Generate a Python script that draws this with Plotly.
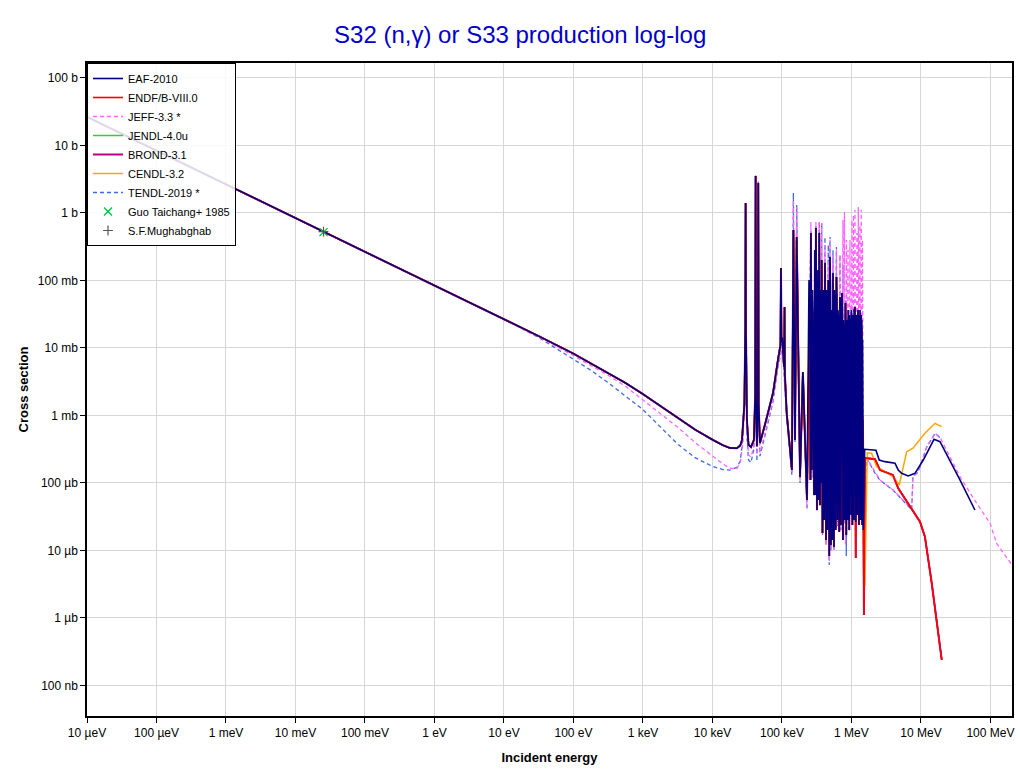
import numpy as np
import plotly.graph_objects as go

# ---------------- axis ticks ----------------
x_tick_vals = [1e-5, 1e-4, 1e-3, 1e-2, 1e-1, 1, 10, 100, 1e3, 1e4, 1e5, 1e6, 1e7, 1e8]
x_tick_text = ["10 µeV", "100 µeV", "1 meV", "10 meV", "100 meV", "1 eV", "10 eV", "100 eV",
               "1 keV", "10 keV", "100 keV", "1 MeV", "10 MeV", "100 MeV"]
y_tick_vals = [1e-7, 1e-6, 1e-5, 1e-4, 1e-3, 1e-2, 1e-1, 1, 10, 100]
y_tick_text = ["100 nb", "1 µb", "10 µb", "100 µb", "1 mb", "10 mb", "100 mb", "1 b", "10 b", "100 b"]

# ---------------- data (energy in eV, cross section in barn) ----------------
# common smooth part of the evaluated solid-line libraries
solid_low_E = [1e-5, 0.0253, 10, 31.6, 100, 316, 562, 1000, 1778, 3162, 5623, 1.0e4, 1.413e4,
               1.778e4, 2.239e4, 2.512e4, 2.66e4, 2.88e4, 2.97e4, 3.0e4, 3.03e4, 3.13e4, 3.3e4,
               3.58e4, 3.95e4, 4.12e4, 4.18e4, 4.24e4, 4.36e4, 4.5e4, 4.56e4, 4.62e4, 4.82e4,
               5.69e4, 7.43e4, 8.75e4, 9.51e4]
solid_low_xs = [26.5, 0.53, 0.0267, 0.0150, 8.24e-3, 4.27e-3, 3.03e-3, 2.07e-3, 1.38e-3, 9.14e-4,
                6.17e-4, 4.38e-4, 3.63e-4, 3.31e-4, 3.27e-4, 3.6e-4, 4.34e-4, 1.5e-3, 0.02, 1.41,
                0.02, 8.6e-4, 3.7e-4, 3.41e-4, 4.34e-4, 2.0e-3, 3.53, 2.0e-3, 3.5e-4, 1.5e-3, 2.78,
                1.5e-3, 3.92e-4, 7.3e-4, 2.15e-3, 6.64e-3, 0.0111]

# resolved resonance forest (solid libraries)
solid_forest_E = [9.68e4, 9.84e4, 1.01e5, 1.07e5, 1.09e5, 1.10e5, 1.17e5, 1.30e5, 1.39e5, 1.46e5,
                  1.54e5, 1.63e5, 1.82e5, 2.00e5, 2.29e5, 2.53e5, 2.57e5, 2.61e5, 2.70e5, 2.79e5,
                  2.89e5, 2.98e5, 3.03e5, 3.08e5, 3.19e5, 3.30e5, 3.35e5, 3.44e5, 3.52e5, 3.64e5,
                  3.68e5, 3.73e5, 3.83e5, 3.95e5, 4.05e5, 4.16e5, 4.30e5, 4.44e5, 4.51e5, 4.64e5,
                  4.79e5, 4.91e5, 5.07e5, 5.19e5, 5.29e5, 5.42e5, 5.60e5, 5.79e5, 5.93e5, 6.08e5,
                  6.29e5, 6.50e5, 6.67e5, 6.84e5, 7.06e5, 7.30e5, 7.55e5, 7.80e5, 7.98e5, 8.20e5,
                  8.42e5, 8.61e5, 8.85e5, 9.06e5, 9.29e5, 9.51e5, 9.84e5, 1.006e6, 1.030e6,
                  1.057e6, 1.086e6, 1.122e6]
solid_forest_xs = [0.153, 0.0123, 0.0141, 0.00523, 0.0405, 0.0042, 1.09e-3, 3.41e-4, 1.56e-4, 0.56,
                   4.34e-4, 0.441, 1.23e-4, 0.00441, 5.6e-5, 0.0514, 1.11e-4, 0.506, 1.56e-4, 0.0341,
                   6.64e-5, 0.283, 6.64e-5, 0.600, 3.98e-5, 0.143, 5.6e-5, 0.506, 4.72e-5, 0.0514,
                   1.0e-4, 0.201, 1.82e-5, 0.0723, 2.83e-5, 0.182, 1.43e-5, 0.0514, 2.01e-5, 0.102,
                   8.3e-6, 0.223, 1.21e-5, 0.0366, 1.43e-5, 0.129, 1.13e-5, 0.0514, 2.01e-5, 0.113,
                   2.83e-5, 0.026, 1.88e-5, 0.057, 2.39e-5, 0.0653, 1.43e-5, 0.0185, 2.83e-5, 0.0464,
                   1.70e-5, 0.0111, 2.83e-5, 0.0185, 2.01e-5, 0.0131, 3.36e-5, 0.0111, 2.39e-5,
                   0.0185, 2.83e-5, 0.0405]
# additional narrow peaks inside the forest (EAF-2010)
eaf_extra_E = [2.45e5, 2.75e5, 2.94e5, 3.13e5, 3.24e5, 3.58e5, 3.89e5, 4.10e5, 4.37e5,
               4.71e5, 4.99e5, 5.35e5, 5.69e5, 5.98e5, 6.18e5, 6.39e5, 6.77e5, 6.95e5,
               7.18e5, 7.43e5, 7.67e5, 8.05e5, 8.12e5, 8.33e5, 8.52e5, 8.75e5, 8.97e5, 9.21e5,
               9.35e5, 9.42e5, 9.68e5, 9.95e5, 1.016e6, 1.04e6, 1.072e6, 1.09e6, 1.104e6, 1.115e6,
               1.17e6, 1.23e6, 1.29e6, 1.33e6, 1.38e6, 1.405e6, 1.445e6]
eaf_extra_xs = [0.102, 0.0723, 0.026, 0.0514, 0.0185, 0.0723, 0.0366, 0.0514, 0.0723,
                0.0514, 0.0723, 0.0514, 0.0723, 0.0366, 0.0514, 0.0366, 0.026, 0.0366,
                0.0309, 0.026, 0.026, 0.026, 0.0309, 0.0185, 0.026, 0.026, 0.0366, 0.0185,
                0.0309, 0.026, 0.0185, 0.0366, 0.026, 0.0309, 0.026, 0.0366, 0.0366, 0.026,
                0.0309, 0.0366, 0.0309, 0.0366, 0.0309, 0.026, 0.0131]

eaf_tail_E = [1.153e6, 1.161e6, 1.180e6, 1.208e6, 1.22e6, 1.241e6, 1.255e6, 1.282e6, 1.30e6,
              1.316e6, 1.34e6, 1.355e6, 1.37e6, 1.393e6, 1.416e6, 1.430e6, 1.463e6, 1.479e6,
              1.549e6, 2.25e6, 2.51e6, 3.03e6, 4.23e6, 4.71e6, 5.27e6, 6.56e6, 8.20e6, 1.08e7,
              1.54e7, 1.88e7, 2.61e7, 3.64e7, 5.98e7]
eaf_tail_xs = [2.64e-5, 0.026, 0.0131, 3.36e-5, 0.026, 0.0366, 0.0185, 2.39e-5, 0.026, 0.00664,
               0.0185, 2.83e-5, 0.026, 0.0185, 0.0185, 2.39e-5, 8.58e-4, 2.01e-5, 3.16e-4,
               3.05e-4, 2.19e-4, 2.07e-4, 1.96e-4, 1.56e-4, 1.39e-4, 1.27e-4, 1.39e-4, 2.19e-4,
               4.44e-4, 4.09e-4, 2.19e-4, 1.11e-4, 3.98e-5]

endf_tail_E = [1.153e6, 1.180e6, 1.208e6, 1.241e6, 1.282e6, 1.316e6, 1.355e6, 1.393e6, 1.430e6,
               1.463e6, 1.513e6, 1.563e6, 2.18e6, 2.57e6, 3.95e6, 4.71e6, 6.95e6, 9.68e6, 1.14e7,
               1.43e7, 1.99e7]
endf_tail_xs = [7.74e-6, 0.0131, 3.36e-5, 0.0366, 2.39e-5, 0.00664, 2.83e-5, 0.0185, 2.39e-5,
                8.58e-4, 1.11e-6, 2.35e-4, 2.25e-4, 1.56e-4, 1.31e-4, 8.34e-5, 4.46e-5, 2.67e-5,
                1.60e-5, 3.27e-6, 2.39e-7]

cendl_tail_E = [1.153e6, 1.180e6, 1.208e6, 1.241e6, 1.282e6, 1.316e6, 1.355e6, 1.393e6, 1.430e6,
                1.463e6, 1.479e6, 1.56e6, 1.69e6, 1.95e6, 2.31e6, 3.98e6, 4.87e6, 6.23e6, 7.67e6,
                1.14e7, 1.59e7, 1.99e7]
cendl_tail_xs = [2.64e-5, 0.0131, 3.36e-5, 0.0366, 2.39e-5, 0.00664, 2.83e-5, 0.0185, 2.39e-5,
                 8.58e-4, 2.01e-5, 3.0e-6, 2.81e-4, 2.77e-4, 1.74e-4, 1.24e-4, 9.34e-5, 2.91e-4,
                 3.27e-4, 5.45e-4, 7.66e-4, 6.83e-4]

# JEFF-3.3
jeff_low_E = [1e-5, 0.0253, 10, 31.6, 100, 316, 562, 1000, 1778, 3162, 5623, 1.0e4, 1.413e4,
              1.778e4, 2.239e4, 2.512e4, 2.75e4, 2.88e4, 2.97e4, 3.0e4, 3.03e4, 3.13e4, 3.3e4,
              3.58e4, 3.95e4, 4.12e4, 4.18e4, 4.24e4, 4.36e4, 4.5e4, 4.56e4, 4.62e4, 4.82e4,
              5.69e4, 7.43e4, 8.75e4, 1.01e5]
jeff_low_xs = [26.5, 0.53, 0.0267, 0.01467, 7.69e-3, 3.94e-3, 2.70e-3, 1.68e-3, 1.07e-3, 6.69e-4,
               3.98e-4, 2.49e-4, 1.91e-4, 1.66e-4, 1.62e-4, 2.02e-4, 4.0e-4, 1.5e-3, 0.02, 1.41,
               0.02, 6.0e-4, 2.6e-4, 2.43e-4, 3.5e-4, 2.0e-3, 3.6, 2.0e-3, 2.6e-4, 1.5e-3, 2.9,
               1.5e-3, 2.8e-4, 5.5e-4, 1.7e-3, 5.5e-3, 0.0111]
jeff_forest_E = [1.07e5, 1.17e5, 1.30e5, 1.39e5, 1.46e5, 1.54e5, 1.63e5, 1.82e5, 2.00e5, 2.29e5,
                 2.61e5, 2.70e5, 2.79e5, 2.89e5, 3.08e5, 3.19e5, 3.44e5, 3.52e5, 3.73e5, 3.83e5,
                 4.16e5, 4.30e5, 4.64e5, 4.79e5, 4.91e5, 5.07e5, 5.42e5, 5.60e5, 6.08e5, 6.29e5,
                 6.84e5, 7.06e5, 7.55e5, 7.72e5, 7.93e5, 8.20e5, 8.47e5, 8.70e5, 8.91e5, 9.21e5,
                 9.51e5, 9.84e5, 1.016e6, 1.044e6, 1.068e6, 1.097e6, 1.122e6, 1.161e6, 1.200e6,
                 1.228e6, 1.255e6, 1.291e6, 1.324e6, 1.355e6, 1.383e6, 1.416e6, 1.439e6, 1.489e6]
jeff_forest_xs = [4.5e-3, 9.5e-4, 3.0e-4, 1.4e-4, 1.56, 4.34e-4, 1.23, 1.11e-4, 4.4e-3, 4.26e-5,
                  0.736, 1.23e-4, 0.0341, 6.64e-5, 0.736, 3.98e-5, 0.736, 4.72e-5, 0.711, 1.7e-5,
                  0.336, 1.21e-5, 0.201, 7.23e-6, 0.398, 1.09e-5, 0.239, 1.02e-5, 0.283, 2.39e-5,
                  0.239, 2.01e-5, 0.787, 1.56e-4, 1.03, 1.21e-5, 0.398, 1.11e-4, 0.283, 1.56e-4,
                  0.398, 1.85e-4, 0.787, 1.56e-4, 0.934, 1.11e-4, 1.11, 1.56e-4, 0.506, 3.08e-4,
                  1.23, 2.19e-4, 0.664, 4.34e-4, 1.11, 6.1e-4, 0.398, 1.11e-4]
jeff_tail_E = [1.66e6, 2.18e6, 2.57e6, 3.98e6, 7.35e6, 7.67e6, 9.1e6, 1.21e7, 1.59e7, 1.87e7,
               3.64e7, 6.33e7, 9.84e7, 1.23e8, 2.04e8]
jeff_tail_xs = [2.35e-4, 1.43e-4, 1.11e-4, 7.87e-5, 4.1e-5, 1.24e-4, 1.47e-4, 3.43e-4, 5.45e-4,
                4.8e-4, 1.24e-4, 5.0e-5, 2.55e-5, 1.27e-5, 6.1e-6]

# TENDL-2019
tendl_low_E = [1e-5, 0.0253, 10, 31.6, 100, 178, 316, 562, 1000, 1778, 3162, 5623, 1.0e4, 1.413e4,
               1.778e4, 2.239e4, 2.512e4, 2.66e4, 2.88e4, 2.97e4, 3.0e4, 3.03e4, 3.13e4, 3.3e4,
               3.58e4, 3.95e4, 4.12e4, 4.18e4, 4.24e4, 4.36e4, 4.5e4, 4.56e4, 4.62e4, 4.82e4,
               5.69e4, 7.43e4, 8.75e4, 1.01e5]
tendl_low_xs = [26.5, 0.53, 0.0267, 0.01432, 6.85e-3, 4.68e-3, 3.06e-3, 1.95e-3, 1.22e-3, 6.78e-4,
                3.76e-4, 2.37e-4, 1.76e-4, 1.58e-4, 1.55e-4, 1.70e-4, 2.12e-4, 3.5e-4, 1.5e-3, 0.02,
                1.41, 0.02, 5.0e-4, 2.2e-4, 2.0e-4, 3.2e-4, 2.0e-3, 3.7, 2.0e-3, 2.1e-4, 1.5e-3,
                3.0, 1.5e-3, 2.5e-4, 5.0e-4, 1.6e-3, 5.2e-3, 0.0105]
tendl_forest_E = [1.07e5, 1.17e5, 1.30e5, 1.39e5, 1.46e5, 1.54e5, 1.63e5, 1.82e5, 2.00e5, 2.29e5,
                  2.61e5, 2.70e5, 2.79e5, 2.89e5, 3.08e5, 3.19e5, 3.44e5, 3.52e5, 3.73e5, 3.83e5,
                  4.16e5, 4.30e5, 4.64e5, 4.79e5, 4.91e5, 5.07e5, 5.42e5, 5.60e5, 6.08e5, 6.29e5,
                  6.84e5, 7.06e5, 7.55e5, 7.80e5, 8.20e5, 8.42e5, 8.91e5, 9.29e5, 9.84e5, 1.03e6,
                  1.086e6, 1.153e6, 1.241e6, 1.316e6, 1.393e6, 1.463e6]
tendl_forest_xs = [4.3e-3, 9.0e-4, 2.8e-4, 1.3e-4, 1.98, 4.0e-4, 1.31, 1.0e-4, 4.4e-3, 4.0e-5,
                   0.56, 1.2e-4, 0.034, 6.5e-5, 0.664, 3.9e-5, 0.736, 4.6e-5, 0.711, 1.7e-5,
                   0.441, 1.2e-5, 0.336, 6.1e-6, 0.441, 1.0e-5, 0.283, 1.0e-5, 0.313, 2.3e-5,
                   0.239, 2.0e-5, 0.17, 2.5e-5, 0.0514, 8.3e-6, 0.03, 2.0e-5, 0.04, 2.5e-5,
                   0.03, 3.0e-5, 0.03, 3.0e-5, 0.03, 3.0e-5]
tendl_tail_E = [1.66e6, 2.18e6, 2.57e6, 3.98e6, 7.35e6, 7.67e6, 9.1e6, 1.21e7, 1.59e7, 1.87e7, 1.99e7]
tendl_tail_xs = [2.3e-4, 1.4e-4, 1.1e-4, 7.8e-5, 4.0e-5, 1.24e-4, 1.45e-4, 3.4e-4, 5.4e-4, 4.8e-4, 4.5e-4]

# thermal measurements
guo_E = [0.0253]
guo_xs = [0.52]
sfm_E = [0.0253]
sfm_xs = [0.53]


def cat(*parts):
    """Concatenate (E, xs) pieces and order them by energy."""
    E = np.concatenate([np.asarray(p[0], dtype=float) for p in parts])
    xs = np.concatenate([np.asarray(p[1], dtype=float) for p in parts])
    order = np.argsort(E, kind="stable")
    return E[order], xs[order]


low = (solid_low_E, solid_low_xs)
forest = (solid_forest_E, solid_forest_xs)
eaf_extra = (eaf_extra_E, eaf_extra_xs)

FONT = "Liberation Sans, Arial, Helvetica, sans-serif"
DASH = "4px,3px"

series = [
    # name, (E, xs), color, dash, width, legend rank  (draw order = list order)
    ("TENDL-2019 *", cat((tendl_low_E, tendl_low_xs), (tendl_forest_E, tendl_forest_xs),
                         (tendl_tail_E, tendl_tail_xs)), "#4169e1", DASH, 1.3, 7),
    ("JEFF-3.3 *", cat((jeff_low_E, jeff_low_xs), (jeff_forest_E, jeff_forest_xs),
                       (jeff_tail_E, jeff_tail_xs)), "#ff66ff", DASH, 1.3, 3),
    ("JENDL-4.0u", cat(low, forest, (endf_tail_E, endf_tail_xs)), "#33cc33", "solid", 1.5, 4),
    ("BROND-3.1", cat(low, forest, (endf_tail_E, endf_tail_xs)), "#bb0088", "solid", 2.0, 5),
    ("CENDL-3.2", cat(low, forest, (cendl_tail_E, cendl_tail_xs)), "#ffa500", "solid", 1.5, 6),
    ("ENDF/B-VIII.0", cat(low, forest, (endf_tail_E, endf_tail_xs)), "#ff0000", "solid", 1.6, 2),
    ("EAF-2010", cat(low, forest, eaf_extra, (eaf_tail_E, eaf_tail_xs)), "#000080", "solid", 1.6, 1),
]

fig = go.Figure()
for name, (E, xs), color, dash, width, rank in series:
    fig.add_trace(go.Scatter(
        x=E, y=xs, mode="lines", name=name, legendrank=rank,
        line=dict(color=color, dash=dash, width=width)))

fig.add_trace(go.Scatter(
    x=guo_E, y=guo_xs, mode="markers", name="Guo Taichang+ 1985", legendrank=8,
    marker=dict(symbol="x-thin", size=8, line=dict(color="#00c040", width=1.3), color="#00c040")))
fig.add_trace(go.Scatter(
    x=sfm_E, y=sfm_xs, mode="markers", name="S.F.Mughabghab", legendrank=9,
    marker=dict(symbol="cross-thin", size=7, line=dict(color="#555555", width=1.2), color="#555555")))

axis_common = dict(
    type="log", showline=True, linecolor="black", linewidth=1.5, mirror=True,
    ticks="outside", ticklen=5, tickcolor="black", tickwidth=1,
    showgrid=True, gridcolor="#d6d6d6", gridwidth=1.2, zeroline=False, automargin=False,
    tickfont=dict(family=FONT, size=12, color="black"),
)

fig.update_layout(
    width=1020, height=772,
    paper_bgcolor="white", plot_bgcolor="white",
    margin=dict(l=87, r=8, t=63, b=56),
    title=dict(text="S32 (n,γ) or S33 production log-log", x=0.51, xref="container",
               xanchor="center", y=0.955, yanchor="middle",
               font=dict(family=FONT, size=24, color="#0000cc")),
    xaxis=dict(axis_common, range=[-5, 8.31], tickvals=x_tick_vals, ticktext=x_tick_text,
               title=dict(text="<b>Incident energy</b>", font=dict(family=FONT, size=13, color="black"),
                          standoff=14)),
    yaxis=dict(axis_common, range=[-7.452, 2.222], tickvals=y_tick_vals, ticktext=y_tick_text,
               title=dict(text="<b>Cross section</b>", font=dict(family=FONT, size=13, color="black"),
                          standoff=6)),
    legend=dict(x=0, y=1, xanchor="left", yanchor="top", bgcolor="rgba(255,255,255,0.85)",
                bordercolor="black", borderwidth=1, font=dict(family=FONT, size=11, color="black"),
                tracegroupgap=0),
    showlegend=True,
)

# remove the default page margin so the 1020x772 figure fills the window exactly
fig.write_html("out.html", config={"displayModeBar": False},
               post_script="document.body.style.margin='0px';")
